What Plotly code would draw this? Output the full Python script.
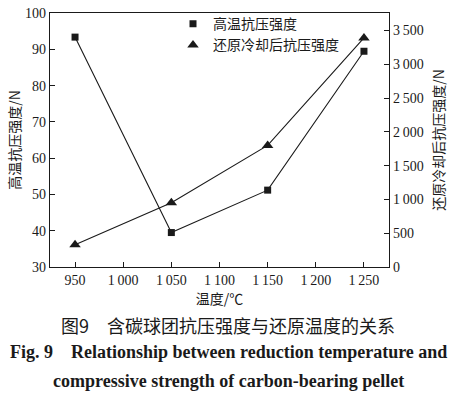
import plotly.graph_objects as go

temps = [950, 1050, 1150, 1250]
hot_strength = [93.4, 39.5, 51.2, 89.5]          # 高温抗压强度 /N (left axis)
cooled_strength = [330, 950, 1800, 3390]         # 还原冷却后抗压强度 /N (right axis)

x_ticks = [950, 1000, 1050, 1100, 1150, 1200, 1250]
x_ticktext = ["950", "1\u2009000", "1\u2009050", "1\u2009100", "1\u2009150", "1\u2009200", "1\u2009250"]
y_ticks = [30, 40, 50, 60, 70, 80, 90, 100]
y2_ticks = [0, 500, 1000, 1500, 2000, 2500, 3000, 3500]
y2_ticktext = ["0", "500", "1\u2009000", "1\u2009500", "2\u2009000", "2\u2009500", "3\u2009000", "3\u2009500"]

name1 = "高温抗压强度"
name2 = "还原冷却后抗压强度"

SERIF = "Liberation Serif, Noto Sans CJK SC"
CJK = "Noto Sans CJK SC, Liberation Serif"
INK = "#1a1a1a"

fig = go.Figure()
fig.add_trace(go.Scatter(x=temps, y=hot_strength, mode="lines", line=dict(color=INK, width=1.1),
                         showlegend=False, yaxis="y"))
fig.add_trace(go.Scatter(x=temps, y=cooled_strength, mode="lines", line=dict(color=INK, width=1.1),
                         showlegend=False, yaxis="y2"))
fig.add_trace(go.Scatter(x=temps, y=hot_strength, mode="markers", name=name1,
                         marker=dict(symbol="square", size=7, color=INK), yaxis="y"))
fig.add_trace(go.Scatter(x=temps, y=cooled_strength, mode="markers", name=name2,
                         marker=dict(symbol="triangle-up", size=10, color=INK), yaxis="y2"))

L, R, T, B = 50, 73, 6, 132
W, H = 462, 399
pw = W - L - R
ph = H - T - B

def px(pix):
    return (pix - L) / pw

def py(pix):
    return (H - B - pix) / ph

fig.update_layout(
    width=W, height=H,
    margin=dict(l=L, r=R, t=T, b=B),
    paper_bgcolor="white", plot_bgcolor="white",
    showlegend=True,
    legend=dict(x=px(173), y=py(1), xanchor="left", yanchor="top",
                bgcolor="rgba(0,0,0,0)", font=dict(family=CJK, size=14, color=INK),
                tracegroupgap=0, itemwidth=30),
    xaxis=dict(range=[924, 1276], tickvals=x_ticks, ticktext=x_ticktext,
               ticks="inside", ticklen=5, tickcolor=INK, showline=True, linecolor=INK, linewidth=1.3,
               mirror=True, showgrid=False, zeroline=False,
               tickfont=dict(family=SERIF, size=14, color=INK),
               title=dict(text="温度/℃", font=dict(family=CJK, size=14, color=INK), standoff=1)),
    yaxis=dict(range=[30, 100.05], tickvals=y_ticks, ticks="inside", ticklen=5, tickcolor=INK,
               showline=True, linecolor=INK, linewidth=1.3, showgrid=False, zeroline=False,
               ticklabeloverflow="allow",
               tickfont=dict(family=SERIF, size=14, color=INK),
               title=dict(text="高温抗压强度/N", font=dict(family=CJK, size=14, color=INK), standoff=1)),
    yaxis2=dict(range=[0, 3760], tickvals=y2_ticks, ticktext=y2_ticktext, overlaying="y", side="right",
                ticks="inside", ticklen=5, tickcolor=INK, showline=True, linecolor=INK, linewidth=1.3,
                showgrid=False, zeroline=False,
                tickfont=dict(family=SERIF, size=14, color=INK),
                title=dict(text="还原冷却后抗压强度/N", font=dict(family=CJK, size=14, color=INK), standoff=11)),
)

caps = [
    ("图9\u2003含碳球团抗压强度与还原温度的关系", 327, dict(family=CJK, size=18, color=INK)),
    ("<b>Fig. 9\u2003Relationship between reduction temperature and</b>", 354, dict(family="Liberation Serif", size=18, color=INK)),
    ("<b>compressive strength of carbon-bearing pellet</b>", 384, dict(family="Liberation Serif", size=18, color=INK)),
]
for text, ypix, font in caps:
    fig.add_annotation(text=text, xref="paper", yref="paper", x=px(228), y=py(ypix),
                       xanchor="center", yanchor="middle", showarrow=False, font=font)

fig.write_html("out.html", config={"displayModeBar": False},
               post_script="document.body.style.margin='0px';")
